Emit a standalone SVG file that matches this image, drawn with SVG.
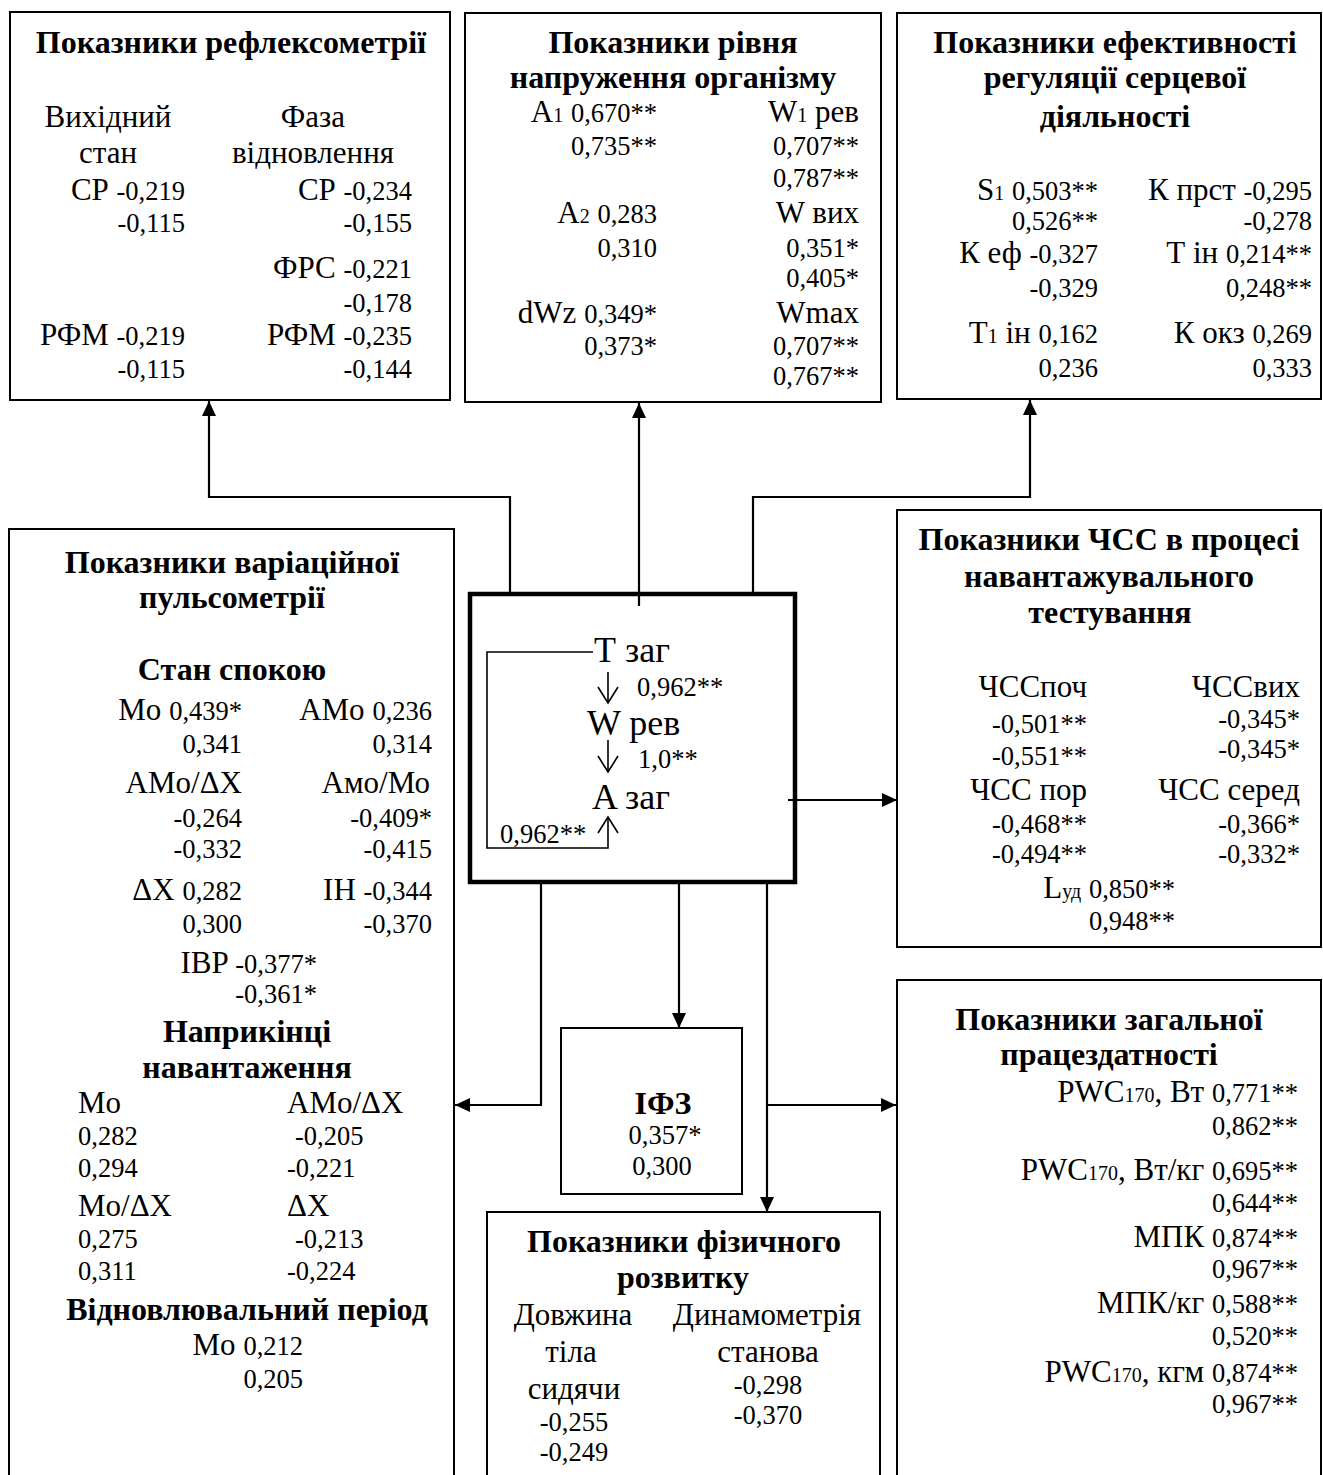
<svg xmlns="http://www.w3.org/2000/svg" width="1323" height="1475" viewBox="0 0 1323 1475">
  <style>
    text { font-family: "Liberation Serif", "Times New Roman", serif; fill: #000; }
    .t { font-size: 32px; font-weight: bold; text-anchor: middle; }
    .l { font-size: 31px; }
    .n { font-size: 26.5px; }
    .s { font-size: 20px; }
    .c { font-size: 36px; }
    .m { text-anchor: middle; }
    .e { text-anchor: end; }
    .box { fill: #fff; stroke: #000; stroke-width: 2; }
    .core { fill: #fff; stroke: #000; stroke-width: 4.5; }
    .wire { fill: none; stroke: #000; stroke-width: 2.2; }
    .thin { fill: none; stroke: #000; stroke-width: 1.6; }
  </style>
  <defs>
    <marker id="head" markerUnits="userSpaceOnUse" markerWidth="15" markerHeight="14" refX="15" refY="7" orient="auto">
      <path d="M0,0 L15,7 L0,14 z" fill="#000"/>
    </marker>
  </defs>
  <rect width="1323" height="1475" fill="#fff"/>

  <!-- Reflexometry -->
  <g id="reflex">
    <rect class="box" x="10" y="12" width="440" height="388"/>
    <text class="t" x="231" y="53">Показники рефлексометрії</text>
    <text class="l m" x="108" y="127">Вихідний</text>
    <text class="l m" x="108" y="163">стан</text>
    <text class="l m" x="313" y="127">Фаза</text>
    <text class="l m" x="313" y="163">відновлення</text>
    <text class="l e" x="185" y="200">СР <tspan class="n">-0,219</tspan></text>
    <text class="n e" x="185" y="232">-0,115</text>
    <text class="l e" x="412" y="200">СР <tspan class="n">-0,234</tspan></text>
    <text class="n e" x="412" y="232">-0,155</text>
    <text class="l e" x="412" y="278">ФРС <tspan class="n">-0,221</tspan></text>
    <text class="n e" x="412" y="312">-0,178</text>
    <text class="l e" x="185" y="345">РФМ <tspan class="n">-0,219</tspan></text>
    <text class="n e" x="185" y="378">-0,115</text>
    <text class="l e" x="412" y="345">РФМ <tspan class="n">-0,235</tspan></text>
    <text class="n e" x="412" y="378">-0,144</text>
  </g>

  <!-- Body strain level -->
  <g id="strain">
    <rect class="box" x="465" y="13" width="416" height="389"/>
    <text class="t" x="673" y="53">Показники рівня</text>
    <text class="t" x="673" y="88">напруження організму</text>
    <text class="l e" x="657" y="122">A<tspan class="s">1</tspan> <tspan class="n">0,670**</tspan></text>
    <text class="n e" x="657" y="155">0,735**</text>
    <text class="l e" x="859" y="122">W<tspan class="s">1</tspan> рев</text>
    <text class="n e" x="859" y="155">0,707**</text>
    <text class="n e" x="859" y="187">0,787**</text>
    <text class="l e" x="657" y="223">A<tspan class="s">2</tspan> <tspan class="n">0,283</tspan></text>
    <text class="n e" x="657" y="257">0,310</text>
    <text class="l e" x="859" y="223">W вих</text>
    <text class="n e" x="859" y="257">0,351*</text>
    <text class="n e" x="859" y="287">0,405*</text>
    <text class="l e" x="657" y="323">dWz <tspan class="n">0,349*</tspan></text>
    <text class="n e" x="657" y="355">0,373*</text>
    <text class="l e" x="859" y="323">Wmax</text>
    <text class="n e" x="859" y="355">0,707**</text>
    <text class="n e" x="859" y="385">0,767**</text>
  </g>

  <!-- Cardiac regulation efficiency -->
  <g id="cardiac">
    <rect class="box" x="897" y="13" width="424" height="386"/>
    <text class="t" x="1115" y="53">Показники ефективності</text>
    <text class="t" x="1115" y="88">регуляції серцевої</text>
    <text class="t" x="1115" y="127">діяльності</text>
    <text class="l e" x="1098" y="200">S<tspan class="s">1</tspan> <tspan class="n">0,503**</tspan></text>
    <text class="n e" x="1098" y="230">0,526**</text>
    <text class="l e" x="1098" y="263">К еф <tspan class="n">-0,327</tspan></text>
    <text class="n e" x="1098" y="297">-0,329</text>
    <text class="l e" x="1098" y="343">T<tspan class="s">1</tspan> ін <tspan class="n">0,162</tspan></text>
    <text class="n e" x="1098" y="377">0,236</text>
    <text class="l e" x="1312" y="200">К прст <tspan class="n">-0,295</tspan></text>
    <text class="n e" x="1312" y="230">-0,278</text>
    <text class="l e" x="1312" y="263">Т ін <tspan class="n">0,214**</tspan></text>
    <text class="n e" x="1312" y="297">0,248**</text>
    <text class="l e" x="1312" y="343">К окз <tspan class="n">0,269</tspan></text>
    <text class="n e" x="1312" y="377">0,333</text>
  </g>

  <!-- Variation pulsometry -->
  <g id="pulsometry">
    <rect class="box" x="9" y="529" width="445" height="970"/>
    <text class="t" x="232" y="573">Показники варіаційної</text>
    <text class="t" x="232" y="608">пульсометрії</text>
    <text class="t" x="232" y="680">Стан спокою</text>
    <text class="l e" x="242" y="720">Mo <tspan class="n">0,439*</tspan></text>
    <text class="n e" x="242" y="753">0,341</text>
    <text class="l e" x="432" y="720">AMo <tspan class="n">0,236</tspan></text>
    <text class="n e" x="432" y="753">0,314</text>
    <text class="l e" x="242" y="793">AMo/ΔX</text>
    <text class="l e" x="430" y="793">Амо/Мо</text>
    <text class="n e" x="242" y="827">-0,264</text>
    <text class="n e" x="432" y="827">-0,409*</text>
    <text class="n e" x="242" y="858">-0,332</text>
    <text class="n e" x="432" y="858">-0,415</text>
    <text class="l e" x="242" y="900">ΔX <tspan class="n">0,282</tspan></text>
    <text class="n e" x="242" y="933">0,300</text>
    <text class="l e" x="432" y="900">IH <tspan class="n">-0,344</tspan></text>
    <text class="n e" x="432" y="933">-0,370</text>
    <text class="l e" x="317" y="973">IBP <tspan class="n">-0,377*</tspan></text>
    <text class="n e" x="317" y="1003">-0,361*</text>
    <text class="t" x="247" y="1042">Наприкінці</text>
    <text class="t" x="247" y="1078">навантаження</text>
    <text class="l" x="78" y="1113">Mo</text>
    <text class="l" x="287" y="1113">AMo/ΔX</text>
    <text class="n" x="78" y="1145">0,282</text>
    <text class="n" x="295" y="1145">-0,205</text>
    <text class="n" x="78" y="1177">0,294</text>
    <text class="n" x="287" y="1177">-0,221</text>
    <text class="l" x="78" y="1216">Mo/ΔX</text>
    <text class="l" x="287" y="1216">ΔX</text>
    <text class="n" x="78" y="1248">0,275</text>
    <text class="n" x="295" y="1248">-0,213</text>
    <text class="n" x="78" y="1280">0,311</text>
    <text class="n" x="287" y="1280">-0,224</text>
    <text class="t" x="247" y="1320">Відновлювальний період</text>
    <text class="l e" x="303" y="1355">Mo <tspan class="n">0,212</tspan></text>
    <text class="n e" x="303" y="1388">0,205</text>
  </g>

  <!-- Central block -->
  <g id="core">
    <rect class="core" x="470" y="594" width="325" height="288"/>
    <text class="c" x="594" y="662">Т заг</text>
    <text class="n" x="637" y="696">0,962**</text>
    <text class="c" x="587" y="735">W рев</text>
    <text class="n" x="638" y="768">1,0**</text>
    <text class="c" x="592" y="809">A заг</text>
    <text class="n" x="500" y="843">0,962**</text>
    <path class="thin" d="M593,652 H487 V848 H608 V817"/>
    <path class="thin" d="M598,833 L608,817 L618,833"/>
    <path class="thin" d="M608,672 V703 M598,687 L608,703 L618,687"/>
    <path class="thin" d="M608,740 V772 M598,756 L608,772 L618,756"/>
  </g>

  <!-- Heart rate during load testing -->
  <g id="hr">
    <rect class="box" x="897" y="510" width="424" height="437"/>
    <text class="t" x="1109" y="550">Показники ЧСС в процесі</text>
    <text class="t" x="1109" y="587">навантажувального</text>
    <text class="t" x="1110" y="623">тестування</text>
    <text class="l e" x="1087" y="697">ЧССпоч</text>
    <text class="l e" x="1300" y="697">ЧССвих</text>
    <text class="n e" x="1087" y="733">-0,501**</text>
    <text class="n e" x="1300" y="728">-0,345*</text>
    <text class="n e" x="1087" y="765">-0,551**</text>
    <text class="n e" x="1300" y="758">-0,345*</text>
    <text class="l e" x="1087" y="800">ЧСС пор</text>
    <text class="l e" x="1300" y="800">ЧСС серед</text>
    <text class="n e" x="1087" y="833">-0,468**</text>
    <text class="n e" x="1300" y="833">-0,366*</text>
    <text class="n e" x="1087" y="863">-0,494**</text>
    <text class="n e" x="1300" y="863">-0,332*</text>
    <text class="l e" x="1175" y="898">L<tspan class="s">уд</tspan> <tspan class="n">0,850**</tspan></text>
    <text class="n e" x="1175" y="930">0,948**</text>
  </g>

  <!-- Physical condition index -->
  <g id="ifz">
    <rect class="box" x="561" y="1028" width="181" height="166"/>
    <text class="t" x="663" y="1114">ІФЗ</text>
    <text class="n m" x="665" y="1144">0,357*</text>
    <text class="n m" x="662" y="1175">0,300</text>
  </g>

  <!-- Physical development -->
  <g id="physical">
    <rect class="box" x="487" y="1212" width="393" height="300"/>
    <text class="t" x="684" y="1252">Показники фізичного</text>
    <text class="t" x="683" y="1288">розвитку</text>
    <text class="l m" x="573" y="1325">Довжина</text>
    <text class="l m" x="571" y="1362">тіла</text>
    <text class="l m" x="574" y="1399">сидячи</text>
    <text class="n m" x="574" y="1431">-0,255</text>
    <text class="n m" x="574" y="1461">-0,249</text>
    <text class="l m" x="767" y="1325">Динамометрія</text>
    <text class="l m" x="768" y="1362">станова</text>
    <text class="n m" x="768" y="1394">-0,298</text>
    <text class="n m" x="768" y="1424">-0,370</text>
  </g>

  <!-- General working capacity -->
  <g id="capacity">
    <rect class="box" x="897" y="980" width="424" height="520"/>
    <text class="t" x="1109" y="1030">Показники загальної</text>
    <text class="t" x="1109" y="1065">працездатності</text>
    <text class="l e" x="1298" y="1102">PWC<tspan class="s">170</tspan>, Вт <tspan class="n">0,771**</tspan></text>
    <text class="n e" x="1298" y="1135">0,862**</text>
    <text class="l e" x="1298" y="1180">PWC<tspan class="s">170</tspan>, Вт/кг <tspan class="n">0,695**</tspan></text>
    <text class="n e" x="1298" y="1212">0,644**</text>
    <text class="l e" x="1298" y="1247">МПК <tspan class="n">0,874**</tspan></text>
    <text class="n e" x="1298" y="1278">0,967**</text>
    <text class="l e" x="1298" y="1313">МПК/кг <tspan class="n">0,588**</tspan></text>
    <text class="n e" x="1298" y="1345">0,520**</text>
    <text class="l e" x="1298" y="1382">PWC<tspan class="s">170</tspan>, кгм <tspan class="n">0,874**</tspan></text>
    <text class="n e" x="1298" y="1413">0,967**</text>
  </g>

  <!-- Connectors -->
  <g id="connectors">
    <path class="wire" d="M510,594 V497 H209 V401" marker-end="url(#head)"/>
    <path class="wire" d="M639,606 V403" marker-end="url(#head)"/>
    <path class="wire" d="M753,594 V497 H1030 V400" marker-end="url(#head)"/>
    <path class="wire" d="M788,800 H897" marker-end="url(#head)"/>
    <path class="wire" d="M541,882 V1105 H455" marker-end="url(#head)"/>
    <path class="wire" d="M679,882 V1028" marker-end="url(#head)"/>
    <path class="wire" d="M767,882 V1212" marker-end="url(#head)"/>
    <path class="wire" d="M767,1105 H896" marker-end="url(#head)"/>
  </g>
</svg>
